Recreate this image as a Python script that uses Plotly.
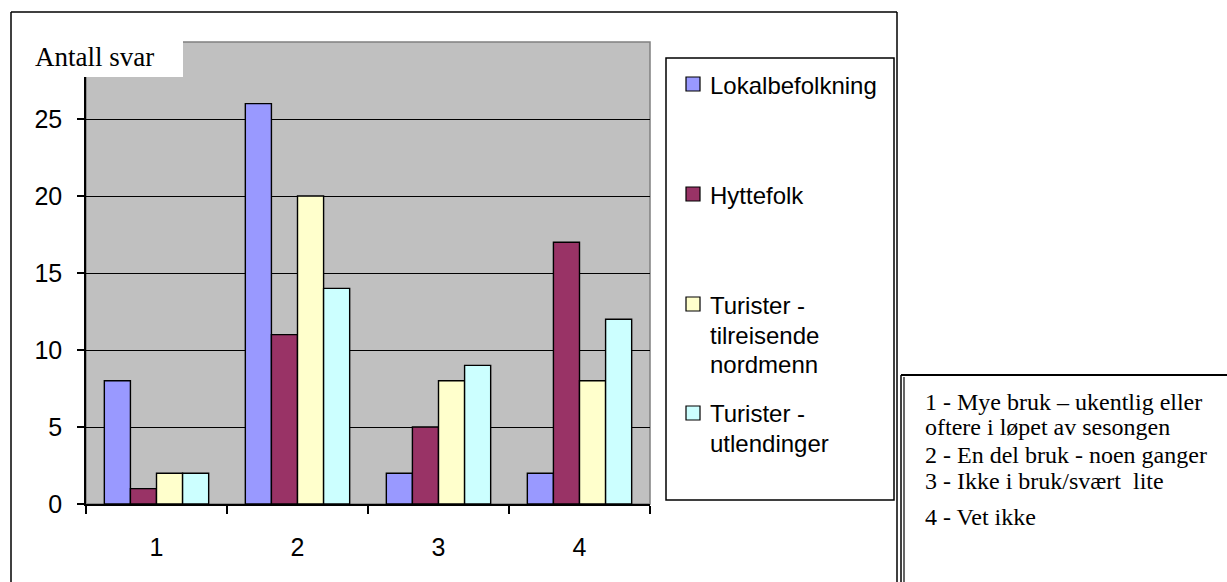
import plotly.graph_objects as go

categories = ["1", "2", "3", "4"]
series_names = ["Lokalbefolkning", "Hyttefolk", "Turister - tilreisende nordmenn", "Turister - utlendinger"]
lokal = [8, 26, 2, 2]
hytte = [1, 11, 5, 17]
tur_norsk = [2, 20, 8, 8]
tur_utl = [2, 14, 9, 12]
y_ticks = [0, 5, 10, 15, 20, 25]
legend_lines = [["Lokalbefolkning"], ["Hyttefolk"], ["Turister -", "tilreisende", "nordmenn"], ["Turister -", "utlendinger"]]
note_lines = ["1 - Mye bruk \u2013 ukentlig eller", "oftere i l\u00f8pet av sesongen",
              "2 - En del bruk - noen ganger", "3 - Ikke i bruk/sv\u00e6rt  lite", "4 - Vet ikke"]

colors = ["#9999FF", "#993366", "#FFFFCC", "#CCFFFF"]

W, H = 1227, 582
PL, PR, PT, PB = 86, 650, 42, 504  # plot area pixels

def px(x):
    return (x - PL) / (PR - PL)

def py(y):
    return (PB - y) / (PB - PT)

fig = go.Figure()
for name, vals, c in zip(series_names, [lokal, hytte, tur_norsk, tur_utl], colors):
    fig.add_trace(go.Bar(x=categories, y=vals, name=name,
                         marker=dict(color=c, line=dict(color="black", width=1.4)),
                         showlegend=False))

shapes = []
annotations = []

def hline(x0, x1, y, w=1.5):
    shapes.append(dict(type="line", xref="paper", yref="paper", x0=px(x0), x1=px(x1), y0=py(y), y1=py(y),
                       line=dict(color="black", width=w), layer="above"))

def vline(x, y0, y1, w=1.5):
    shapes.append(dict(type="line", xref="paper", yref="paper", x0=px(x), x1=px(x), y0=py(y0), y1=py(y1),
                       line=dict(color="black", width=w), layer="above"))

# outer chart frame (bottom lies outside the view)
hline(11, 897, 12)
vline(11, 12, 590)
vline(897, 12, 590)
# plot area border (gray)
shapes.append(dict(type="rect", xref="paper", yref="paper", x0=0, x1=1, y0=0, y1=1,
                   line=dict(color="#808080", width=1.5), layer="below"))
# legend box
shapes.append(dict(type="rect", xref="paper", yref="paper", x0=px(666), x1=px(894), y0=py(58), y1=py(500),
                   line=dict(color="black", width=1.5), fillcolor="white", layer="above"))
# note box (only top and double left edge visible)
hline(901, 1240, 375, 2)
vline(901, 375, 590, 1.5)
vline(904, 377, 590, 1.2)
# white box behind "Antall svar"
shapes.append(dict(type="rect", xref="paper", yref="paper", x0=px(30), x1=px(183), y0=py(41), y1=py(77),
                   line=dict(width=0), fillcolor="white", layer="above"))
annotations.append(dict(xref="paper", yref="paper", x=px(33), y=py(57), text="Antall svar", showarrow=False,
                        xanchor="left", yanchor="middle", font=dict(family="Liberation Serif", size=27, color="black")))

# legend
marker_y = [84, 194, 304, 413]
text_y = [[85], [195], [305, 335, 365], [413, 443]]
for c, my, lines, ty in zip(colors, marker_y, legend_lines, text_y):
    shapes.append(dict(type="rect", xref="paper", yref="paper", x0=px(686), x1=px(700), y0=py(my - 7), y1=py(my + 7),
                       line=dict(color="black", width=1.2), fillcolor=c, layer="above"))
    for t, yy in zip(lines, ty):
        annotations.append(dict(xref="paper", yref="paper", x=px(708), y=py(yy), text=t, showarrow=False,
                                xanchor="left", yanchor="middle",
                                font=dict(family="Liberation Sans", size=24, color="black")))

# note text
note_y = [402, 427, 455, 481, 517]
for t, yy in zip(note_lines, note_y):
    annotations.append(dict(xref="paper", yref="paper", x=px(923), y=py(yy), text=t, showarrow=False,
                            xanchor="left", yanchor="middle",
                            font=dict(family="Liberation Serif", size=24, color="black")))

fig.update_layout(
    width=W, height=H,
    margin=dict(l=PL, r=W - PR, t=PT, b=H - PB, pad=0),
    paper_bgcolor="white", plot_bgcolor="#C0C0C0",
    barmode="group", bargap=0.26, bargroupgap=0,
    shapes=shapes, annotations=annotations,
    font=dict(family="Liberation Sans", size=25, color="black"),
)
fig.update_xaxes(type="category", showline=True, linecolor="black", linewidth=1.5,
                 ticks="outside", tickson="boundaries", ticklen=8, tickcolor="black", tickwidth=1.5,
                 showgrid=False, ticklabelstandoff=20, tickfont=dict(size=25))
fig.update_yaxes(range=[0, 30], tickvals=y_ticks, showline=True, linecolor="black", linewidth=1.5,
                 ticks="outside", ticklen=7, tickcolor="black", tickwidth=1.5,
                 showgrid=True, gridcolor="black", gridwidth=1.3, zeroline=False,
                 ticklabelstandoff=10, tickfont=dict(size=25))

fig.write_html("out.html", config={"displayModeBar": False},
               post_script="document.body.style.margin='0';document.body.style.overflow='hidden';")
